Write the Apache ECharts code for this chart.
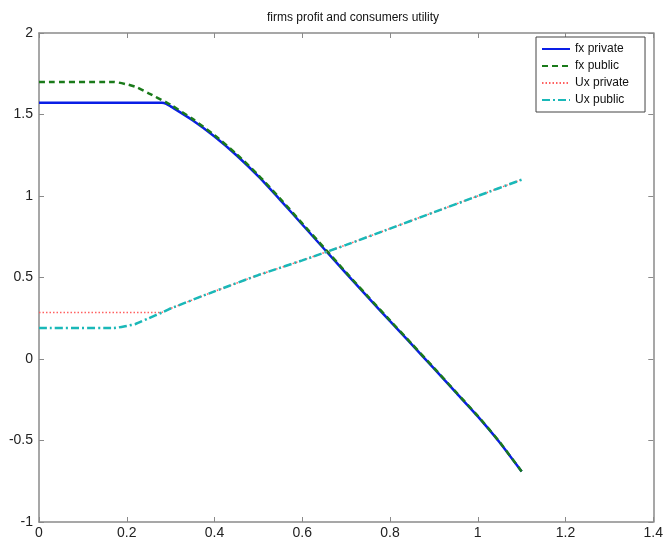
<!DOCTYPE html>
<html><head><meta charset="utf-8">
<script src="https://cdn.jsdelivr.net/npm/echarts@6/dist/echarts.min.js"></script>
<style>html,body{margin:0;padding:0;background:#fff}#c{width:666px;height:540px}</style>
</head><body><div id="c"></div>
<script>
const titleText = 'firms profit and consumers utility';
const seriesNames = ['fx private', 'fx public', 'Ux private', 'Ux public'];

const fxPrivateX = [0, 0.28, 0.29, 0.3, 0.35, 0.4, 0.45, 0.5, 0.55, 0.6, 0.65, 0.7, 0.75, 0.8, 0.85, 0.9, 0.95, 1.0, 1.05, 1.1];
const fxPrivateY = [1.572, 1.572, 1.566, 1.55, 1.465, 1.365, 1.25, 1.12, 0.975, 0.825, 0.675, 0.525, 0.378, 0.232, 0.088, -0.058, -0.205, -0.352, -0.512, -0.69];

const fxPublicX = [0, 0.17, 0.2, 0.22, 0.25, 0.29, 0.3, 0.35, 0.4, 0.45, 0.5, 0.55, 0.6, 0.65, 0.7, 0.75, 0.8, 0.85, 0.9, 0.95, 1.0, 1.05, 1.1];
const fxPublicY = [1.70, 1.70, 1.685, 1.67, 1.63, 1.575, 1.56, 1.473, 1.373, 1.258, 1.128, 0.983, 0.832, 0.682, 0.531, 0.383, 0.237, 0.092, -0.054, -0.202, -0.349, -0.51, -0.69];

const uxPrivateX = [0, 0.28, 0.3, 0.4, 0.5, 0.6, 0.7, 0.8, 0.9, 1.0, 1.1];
const uxPrivateY = [0.286, 0.286, 0.31, 0.415, 0.515, 0.605, 0.70, 0.80, 0.90, 1.0, 1.1];

const uxPublicX = [0, 0.17, 0.2, 0.22, 0.25, 0.28, 0.3, 0.4, 0.5, 0.6, 0.7, 0.8, 0.9, 1.0, 1.1];
const uxPublicY = [0.19, 0.19, 0.203, 0.215, 0.25, 0.285, 0.31, 0.415, 0.515, 0.605, 0.70, 0.80, 0.90, 1.0, 1.1];

const pairs = (xs, ys) => xs.map((x, i) => [x, ys[i]]);

const chart = echarts.init(document.getElementById('c'), null, {renderer: 'canvas'});
const axisGrey = '#8a8a8a';
const labelStyle = {color: '#222', fontSize: 14, fontFamily: 'Liberation Sans, Arial, sans-serif'};

chart.setOption({
  animation: false,
  backgroundColor: '#fff',
  title: {
    text: titleText, left: 348, top: 7, textAlign: 'center',
    textStyle: {fontSize: 12, fontWeight: 'normal', color: '#111', fontFamily: 'Liberation Sans, Arial, sans-serif'}
  },
  grid: {left: 39, right: 8, top: 33, bottom: 18, show: false},
  legend: {
    orient: 'vertical', left: 536, top: 37,
    itemWidth: 28, itemHeight: 12, itemGap: 5,
    padding: [6, 16, 6, 5],
    borderColor: '#444', borderWidth: 1, backgroundColor: '#fff',
    itemStyle: {opacity: 0},
    textStyle: {fontSize: 12, color: '#111', fontFamily: 'Liberation Sans, Arial, sans-serif'},
    data: seriesNames
  },
  xAxis: [{
    type: 'value', min: 0, max: 1.4, interval: 0.2, position: 'bottom',
    axisLine: {show: true, onZero: false, lineStyle: {color: axisGrey, width: 1.5}},
    axisTick: {show: true, inside: true, length: 5, lineStyle: {color: axisGrey}},
    axisLabel: Object.assign({margin: 4}, labelStyle),
    splitLine: {show: false}
  }, {
    type: 'value', min: 0, max: 1.4, interval: 0.2, position: 'top',
    axisLine: {show: true, onZero: false, lineStyle: {color: axisGrey, width: 1.5}},
    axisTick: {show: true, inside: true, length: 5, lineStyle: {color: axisGrey}},
    axisLabel: {show: false}, splitLine: {show: false}
  }],
  yAxis: [{
    type: 'value', min: -1, max: 2, interval: 0.5, position: 'left',
    axisLine: {show: true, onZero: false, lineStyle: {color: axisGrey, width: 1.5}},
    axisTick: {show: true, inside: true, length: 5, lineStyle: {color: axisGrey}},
    axisLabel: Object.assign({margin: 6}, labelStyle),
    splitLine: {show: false}
  }, {
    type: 'value', min: -1, max: 2, interval: 0.5, position: 'right',
    axisLine: {show: true, onZero: false, lineStyle: {color: axisGrey, width: 1.5}},
    axisTick: {show: true, inside: true, length: 5, lineStyle: {color: axisGrey}},
    axisLabel: {show: false}, splitLine: {show: false}
  }],
  series: [
    {name: seriesNames[0], type: 'line', showSymbol: false, symbol: 'none', smooth: 0.2,
     data: pairs(fxPrivateX, fxPrivateY), color: '#0a1ee6',
     lineStyle: {color: '#0a1ee6', width: 2.5, type: 'solid'}},
    {name: seriesNames[1], type: 'line', showSymbol: false, symbol: 'none', smooth: 0.2,
     data: pairs(fxPublicX, fxPublicY), color: '#1a7a1a',
     lineStyle: {color: '#1a7a1a', width: 2.5, type: [6, 4]}},
    {name: seriesNames[2], type: 'line', showSymbol: false, symbol: 'none',
     data: pairs(uxPrivateX, uxPrivateY), color: '#ff6060',
     lineStyle: {color: '#ff6060', width: 1.5, type: [1.5, 2]}},
    {name: seriesNames[3], type: 'line', showSymbol: false, symbol: 'none', smooth: 0.2,
     data: pairs(uxPublicX, uxPublicY), color: '#1ab8b8',
     lineStyle: {color: '#1ab8b8', width: 2.5, type: [8, 3, 2, 3]}}
  ]
});
</script>
</body></html>
